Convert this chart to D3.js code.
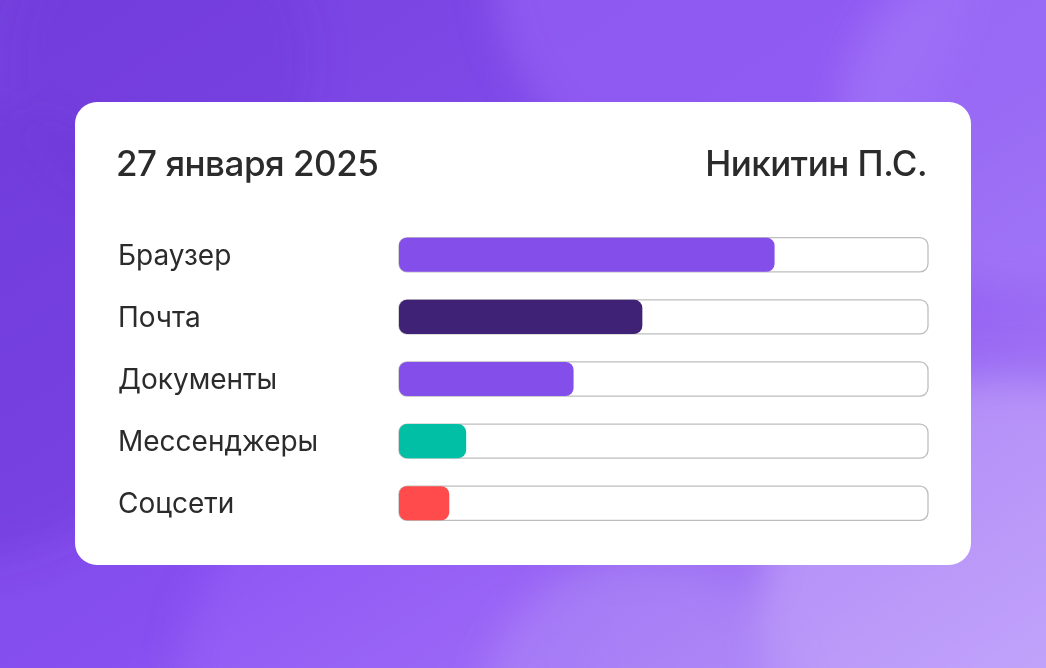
<!DOCTYPE html>
<html><head><meta charset="utf-8">
<script src="https://cdn.jsdelivr.net/npm/d3@7"></script>
<style>html,body{margin:0;padding:0;overflow:hidden;background:#7d45e6}</style>
</head><body>
<script>
const categories = ["Браузер","Почта","Документы","Мессенджеры","Соцсети"];
const values = [71, 46, 33, 12.7, 9.5];
const barColors = ["#844eeb","#3f2175","#844eeb","#00bfa5","#ff4b4b"];
const title = "27 января 2025";
const author = "Никитин П.С.";
const maxValue = 100;

const W = 1046, H = 668;
const svg = d3.select("body").append("svg").attr("width", W).attr("height", H);
const defs = svg.append("defs");
const lg = defs.append("linearGradient").attr("id","bg").attr("x1","0").attr("y1","0").attr("x2","1").attr("y2","1");
lg.append("stop").attr("offset","0%").attr("stop-color","#7440dd");
lg.append("stop").attr("offset","55%").attr("stop-color","#874ff0");
lg.append("stop").attr("offset","100%").attr("stop-color","#b895f9");
svg.append("rect").attr("width",W).attr("height",H).attr("fill","url(#bg)");
const blur = defs.append("filter").attr("id","bl").attr("x","-50%").attr("y","-50%").attr("width","200%").attr("height","200%");
blur.append("feGaussianBlur").attr("stdDeviation", 18);
const blobs = [
  {cx:730, cy:-40, r:240, c:"#9a68f7", o:0.55},
  {cx:1010, cy:120, r:170, c:"#a57df9", o:0.6},
  {cx:-40, cy:330, r:230, c:"#6a34d6", o:0.45},
  {cx:380, cy:680, r:200, c:"#9b63fa", o:0.5},
  {cx:1000, cy:620, r:240, c:"#c9b0fc", o:0.5},
  {cx:640, cy:720, r:160, c:"#b28df8", o:0.5},
  {cx:160, cy:60, r:150, c:"#6d36d8", o:0.35}
];
svg.append("g").attr("filter","url(#bl)").selectAll("circle").data(blobs).join("circle")
  .attr("cx",d=>d.cx).attr("cy",d=>d.cy).attr("r",d=>d.r).attr("fill",d=>d.c).attr("opacity",d=>d.o);

// card
svg.append("rect").attr("x",75).attr("y",102).attr("width",896).attr("height",463).attr("rx",22).attr("fill","#ffffff");

const font = "Inter, 'Open Sans', sans-serif";
svg.append("text").attr("x",116).attr("y",176).attr("font-family",font).attr("font-size",35).attr("font-weight",500)
  .attr("fill","#2b2b2b").attr("letter-spacing","-0.5").text(title);
svg.append("text").attr("x",927).attr("y",176).attr("text-anchor","end").attr("font-family",font).attr("font-size",35).attr("font-weight",500)
  .attr("fill","#2b2b2b").attr("letter-spacing","-0.5").text(author);

const x = d3.scaleLinear().domain([0,maxValue]).range([399,928]);
const y = d3.scaleBand().domain(categories).range([224,534]).paddingInner(0.45).paddingOuter(0.22);

const rows = svg.append("g").selectAll("g").data(categories).join("g");
rows.append("text").attr("x",118).attr("y",c=>y(c)+y.bandwidth()/2).attr("dy","0.36em")
  .attr("font-family",font).attr("font-size",28).attr("fill","#2b2b2b").text(c=>c);
rows.append("rect").attr("x",x(0)).attr("y",c=>y(c)).attr("width",x(maxValue)-x(0)).attr("height",y.bandwidth())
  .attr("rx",8).attr("fill","#fff").attr("stroke","#bdbdbd").attr("stroke-width",1.3);
rows.append("rect").attr("x",x(0)).attr("y",c=>y(c)).attr("width",(c,i)=>x(values[i])-x(0)).attr("height",y.bandwidth())
  .attr("rx",8).attr("fill",(c,i)=>barColors[i]);
</script>
</body></html>
